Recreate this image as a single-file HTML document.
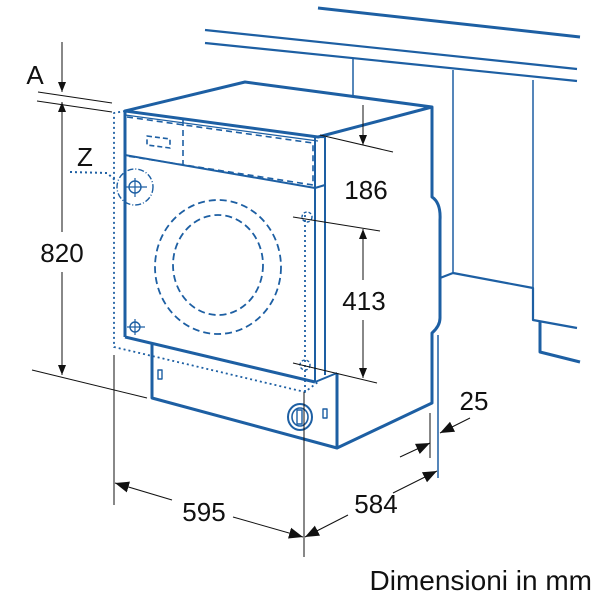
<!DOCTYPE html>
<html><head><meta charset="utf-8"><style>
html,body{margin:0;padding:0;background:#fff;}
svg{display:block;}
text{font-family:"Liberation Sans",sans-serif;fill:#111;}
</style></head><body>
<svg width="600" height="600" viewBox="0 0 600 600" xmlns="http://www.w3.org/2000/svg">
<defs>
<marker id="ah" viewBox="0 0 10 10" refX="10" refY="5" markerWidth="10" markerHeight="10" markerUnits="userSpaceOnUse" orient="auto-start-reverse"><path d="M0,1 L10,5 L0,9 Z" fill="#111"/></marker>
<marker id="ahb" viewBox="0 0 10 10" refX="10" refY="5" markerWidth="14" markerHeight="14" markerUnits="userSpaceOnUse" orient="auto-start-reverse"><path d="M0,1 L10,5 L0,9 Z" fill="#111"/></marker>
</defs>
<g fill="none" stroke="#1d5fa3" stroke-width="2.2" stroke-linejoin="round">
<!-- cabinet -->
<line x1="318" y1="8" x2="580" y2="37" stroke-width="3"/>
<line x1="205" y1="30" x2="577" y2="69"/>
<line x1="205" y1="43" x2="577" y2="81"/>
<line x1="353" y1="58" x2="353" y2="97" stroke-width="1.5"/>
<line x1="453" y1="70" x2="453" y2="273" stroke-width="1.5"/>
<line x1="533" y1="80" x2="533" y2="288" stroke-width="1.5"/>
<polyline points="440,278 453,273 533,288 533,320 577,328"/>
<polyline points="540,322 540,352 580,362" stroke-width="3"/>
<!-- machine body -->
<polygon points="125,111 245,82 432,107 318,137" stroke-width="3"/>
<line x1="318" y1="137" x2="325" y2="137"/>
<path d="M432,107 L432,197 Q441,203 440,220 L440,318 Q440,326 432,333 L432,403 L337,448" stroke-width="3"/>
<line x1="438" y1="335" x2="438" y2="478" stroke-width="1.5"/>
<line x1="125" y1="111" x2="125" y2="337" stroke-width="3"/>
<line x1="125" y1="337" x2="315" y2="382" stroke-width="3"/>
<line x1="315" y1="137" x2="315" y2="382" stroke-width="2"/>
<line x1="325" y1="137" x2="325" y2="375" stroke-width="2"/>
<line x1="315" y1="382" x2="337" y2="373" stroke-width="2"/>
<line x1="125" y1="155" x2="315" y2="188" stroke-width="2"/>
<line x1="315" y1="188" x2="325" y2="185" stroke-width="2"/>
<line x1="125" y1="115" x2="318" y2="141" stroke-width="1.2"/>
<!-- plinth -->
<polyline points="152,343 152,398 337,448 337,373" stroke-width="3"/>
<!-- dashed control panel -->
<polyline points="127,117 313,143 313,185 127,156" stroke-dasharray="6,4" stroke-width="1.6"/>
<line x1="183" y1="120" x2="183" y2="165" stroke-dasharray="6,4" stroke-width="1.6"/>
<polygon points="147,136 170,139 170,148 147,145" stroke-dasharray="5,3" stroke-width="1.6"/>
<!-- drum -->
<ellipse cx="218" cy="267" rx="63" ry="67" stroke-dasharray="7,4" stroke-width="1.8"/>
<ellipse cx="218" cy="265" rx="45" ry="50" stroke-dasharray="7,4" stroke-width="1.8"/>
<!-- holes -->
<circle cx="307" cy="217" r="5" stroke-dasharray="3,2" stroke-width="1.4"/>
<circle cx="305" cy="365" r="5" stroke-dasharray="3,2" stroke-width="1.4"/>
<circle cx="135" cy="327" r="5" stroke-width="1.4"/>
<path d="M127,327 H145 M135,319 V335" stroke-width="1.2"/>
<circle cx="135" cy="187" r="18" stroke-dasharray="6,2,1,2" stroke-width="1.4"/>
<circle cx="135" cy="187" r="6" stroke-width="1.4"/>
<path d="M126,187 H147 M135,178 V197" stroke-width="1.2"/>
<!-- dotted outline -->
<polyline points="125,111 114,113 114,347 305,392 318,382" stroke-dasharray="2,3" stroke-width="1.8"/>
<line x1="305" y1="215" x2="305" y2="392" stroke-dasharray="2,3" stroke-width="1.8"/>
<!-- knob & slots -->
<ellipse cx="300" cy="417" rx="12" ry="13" stroke-width="2"/>
<ellipse cx="300" cy="417" rx="8" ry="9" stroke-width="1.6"/>
<rect x="297" y="410" width="5" height="14" stroke-width="1.4"/>
<rect x="158" y="370" width="4" height="9" stroke-width="1.4"/>
<rect x="323" y="409" width="4" height="9" stroke-width="1.4"/>
<!-- Z dotted -->
<polyline points="70,172 107,173 115,180" stroke-dasharray="2,3" stroke-width="2"/>
</g>
<g stroke="#111" stroke-width="1" fill="none">
<line x1="38" y1="92" x2="112" y2="103"/>
<line x1="37" y1="101" x2="112" y2="112"/>
<line x1="62" y1="42" x2="62" y2="92" marker-end="url(#ah)"/>
<line x1="62" y1="102" x2="62" y2="232" marker-start="url(#ah)"/>
<line x1="62" y1="272" x2="62" y2="375" marker-end="url(#ah)"/>
<line x1="32" y1="370" x2="147" y2="398"/>
<line x1="320" y1="135" x2="393" y2="152"/>
<line x1="363" y1="105" x2="363" y2="145" marker-end="url(#ah)"/>
<line x1="293" y1="217" x2="380" y2="231"/>
<line x1="293" y1="363" x2="377" y2="383"/>
<line x1="363" y1="229" x2="363" y2="280" marker-start="url(#ah)"/>
<line x1="363" y1="320" x2="363" y2="378" marker-end="url(#ah)"/>
<line x1="114" y1="355" x2="114" y2="505"/>
<line x1="304" y1="392" x2="304" y2="557"/>
<line x1="115" y1="483" x2="172" y2="500" marker-start="url(#ahb)"/>
<line x1="233" y1="517" x2="303" y2="537" marker-end="url(#ahb)"/>
<line x1="305" y1="537" x2="348" y2="515" marker-start="url(#ahb)"/>
<line x1="393" y1="493" x2="437" y2="471" marker-end="url(#ahb)"/>
<line x1="430" y1="413" x2="430" y2="458"/>
<line x1="400" y1="457" x2="430" y2="443" marker-end="url(#ahb)"/>
<line x1="470" y1="418" x2="440" y2="433" marker-end="url(#ahb)"/>
</g>
<g font-size="26">
<text x="35" y="84" text-anchor="middle">A</text>
<text x="85" y="166" text-anchor="middle">Z</text>
<text x="62" y="262" text-anchor="middle">820</text>
<text x="366" y="199" text-anchor="middle">186</text>
<text x="364" y="310" text-anchor="middle">413</text>
<text x="204" y="521" text-anchor="middle">595</text>
<text x="376" y="513" text-anchor="middle">584</text>
<text x="474" y="410" text-anchor="middle">25</text>
<text x="592" y="590" text-anchor="end" font-size="28">Dimensioni in mm</text>
</g>
</svg>
</body></html>
